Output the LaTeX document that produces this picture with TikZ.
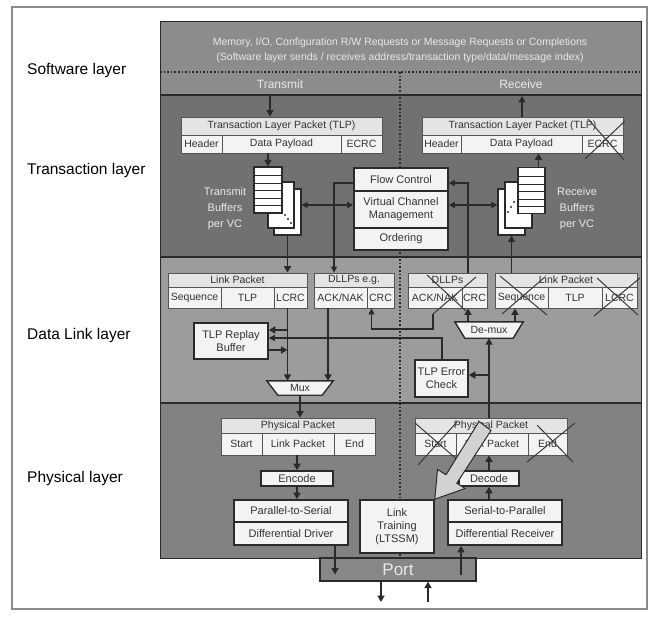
\documentclass[tikz,border=0pt]{standalone}
\usepackage{fontspec}
\setmainfont{Liberation Sans}
\usetikzlibrary{arrows.meta,calc}
\definecolor{swc}{HTML}{8C8C8C}
\definecolor{trc}{HTML}{717171}
\definecolor{dlc}{HTML}{9C9C9C}
\definecolor{phc}{HTML}{828282}
\definecolor{darkc}{HTML}{2A2A2A}
\definecolor{textc}{HTML}{333333}
\definecolor{hdrc}{HTML}{E4E4E4}
\definecolor{cellc}{HTML}{F3F3F3}
\definecolor{pktb}{HTML}{555555}
\definecolor{lightc}{HTML}{E8E8E8}
\definecolor{xc}{HTML}{3A3A3A}
\definecolor{framec}{HTML}{8A8A8A}
\definecolor{portc}{HTML}{878787}
\definecolor{bigc}{HTML}{D2D2D2}
\begin{document}
\begin{tikzpicture}[x=1pt,y=-1pt,
  txt/.style={inner sep=0pt, text=textc, font=\fontsize{10.5}{12}\selectfont, align=center},
  hdr/.style={draw=pktb, line width=0.8pt, fill=hdrc, inner sep=0pt, text=textc, font=\fontsize{10.5}{11.5}\selectfont, minimum height=14pt},
  cell/.style={draw=pktb, line width=0.8pt, fill=cellc, inner sep=0pt, text=textc, font=\fontsize{10.5}{11.5}\selectfont, minimum height=21pt},
  fbox/.style={draw=darkc, line width=1.6pt, fill=cellc, inner sep=0pt, text=textc, font=\fontsize{11}{13}\selectfont, align=center},
  page/.style={draw=darkc, line width=1.2pt, fill=white, inner sep=0pt, minimum width=27pt, minimum height=46pt},
  arr/.style={draw=darkc, line width=1.8pt, -{Triangle[length=6.5pt,width=7pt]}},
  tarr/.style={draw=darkc, line width=1.1pt, -{Triangle[length=6pt,width=6pt]}},
  darr/.style={draw=darkc, line width=1.4pt, {Triangle[length=6pt,width=6pt]}-{Triangle[length=6pt,width=6pt]}},
  xline/.style={draw=xc, line width=1pt},
  lbl/.style={inner sep=0pt, anchor=west, font=\fontsize{15.5}{18}\selectfont, text=black},
  light/.style={inner sep=0pt, text=lightc, align=center}
]
\useasboundingbox (0,0) rectangle (651,618);
\fill[white] (0,0) rectangle (651,618);
\draw[framec, line width=1.2pt] (12,7) rectangle (647,609);

% layer regions
\fill[swc] (160,22) rectangle (641,95);
\fill[trc] (160,95) rectangle (641,257);
\fill[dlc] (160,257) rectangle (641,403);
\fill[phc] (160,403) rectangle (641,558);
\draw[darkc, line width=1pt] (160,22) rectangle (641,558);
\draw[darkc, line width=2pt] (160,95) -- (641,95);
\draw[darkc, line width=2pt] (160,257) -- (641,257);
\draw[darkc, line width=2pt] (160,403) -- (641,403);
\draw[darkc, line width=1.6pt, dash pattern=on 1.6pt off 2pt] (160,72) -- (641,72);
\draw[darkc, line width=1.6pt, dash pattern=on 1.6pt off 2pt] (400,72) -- (400,558);

% left labels
\node[lbl] (lsw) at (27,70) {Software layer};
\node[lbl] (ltr) at (27,170) {Transaction layer};
\node[lbl] (ldl) at (27,335) {Data Link layer};
\node[lbl] (lph) at (27,478) {Physical layer};

% software
\node[light, font=\fontsize{10.5}{15}\selectfont] (swt) at (400,50) {Memory, I/O, Configuration R/W Requests or Message Requests or Completions\\(Software layer sends / receives address/transaction type/data/message index)};
\node[light, font=\fontsize{12}{14}\selectfont] (trans) at (280,84) {Transmit};
\node[light, font=\fontsize{12}{14}\selectfont] (recv) at (521,84) {Receive};

% TLP boxes
\node[hdr, minimum width=201pt, minimum height=18pt] (tlpLh) at (281.5,126) {Transaction Layer Packet (TLP)};
\node[cell, minimum width=41pt, minimum height=18pt] (tlpLa) at (201.5,144) {Header};
\node[cell, minimum width=119pt, minimum height=18pt] (tlpLd) at (281.5,144) {Data Payload};
\node[cell, minimum width=41pt, minimum height=18pt] (tlpLe) at (361.5,144) {ECRC};
\node[hdr, minimum width=201pt, minimum height=18pt] (tlpRh) at (522.5,126) {Transaction Layer Packet (TLP)};
\node[cell, minimum width=39pt, minimum height=18pt] (tlpRa) at (441.5,144) {Header};
\node[cell, minimum width=121pt, minimum height=18pt] (tlpRd) at (521.5,144) {Data Payload};
\node[cell, minimum width=41pt, minimum height=18pt] (tlpRe) at (602.5,144) {ECRC};

% flow control block
\node[fbox, minimum width=94pt, minimum height=23pt] (fc) at (401,179.5) {Flow Control};
\node[fbox, minimum width=94pt, minimum height=37pt] (vcm) at (401,209.5) {Virtual Channel\\Management};
\node[fbox, minimum width=94pt, minimum height=22pt] (ord) at (401,239) {Ordering};

% transmit buffers
\node[page] (bufT3) at (287.5,212) {};
\node[page, minimum width=26pt] (bufT2) at (281,205) {};
\node[page, minimum width=28pt] (bufT1) at (268,190) {};
\foreach \yy in {175,183,190,198,205} \draw[darkc, line width=0.9pt] (254,\yy) -- (282,\yy);
\foreach \p in {(285,215),(288,219),(291,223)} \fill[darkc] \p circle (1.1pt);
\node[light, font=\fontsize{11}{16}\selectfont] (tbl) at (225,209) {Transmit\\Buffers\\per VC};

% receive buffers
\node[page] (bufR3) at (511.5,212) {};
\node[page] (bufR2) at (518.5,205) {};
\node[page] (bufR1) at (531.5,190.5) {};
\foreach \yy in {176,184,191,199,206} \draw[darkc, line width=0.9pt] (518,\yy) -- (545,\yy);
\foreach \p in {(514,202),(511,207),(508,212)} \fill[darkc] \p circle (1.1pt);
\node[light, font=\fontsize{11}{16}\selectfont] (rbl) at (577,209) {Receive\\Buffers\\per VC};

% transaction connectors
\coordinate (txTop) at (270,96);
\draw[arr] (txTop) -- (txTop |- tlpLh.north);
\coordinate (rxTop) at (522,96);
\draw[arr] (rxTop |- tlpRh.north) -- (rxTop);
\draw[arr] (tlpLd.south -| bufT1.north) -- (bufT1.north);
\coordinate (rbo) at ([xshift=7pt]bufR1.north);
\draw[arr] (rbo) -- (rbo |- tlpRd.south);
\coordinate (vcmL) at ([yshift=4.5pt]vcm.west);
\draw[darr] (vcmL -| bufT3.east) -- (vcmL);
\coordinate (vcmR) at ([yshift=4.5pt]vcm.east);
\draw[darr] (vcmR) -- (vcmR -| bufR3.west);

% data link packets
\node[hdr, minimum width=139pt] (lpLh) at (237.5,280) {Link Packet};
\node[cell, minimum width=53pt] (lpLs) at (194.5,297.5) {Sequence};
\node[cell, minimum width=53pt] (lpLt) at (247.5,297.5) {TLP};
\node[cell, minimum width=33pt] (lpLl) at (290.5,297.5) {LCRC};
\node[hdr, minimum width=80pt] (dlTh) at (354,280) {DLLPs e.g.};
\node[cell, minimum width=53pt] (dlTa) at (340.5,297.5) {ACK/NAK};
\node[cell, minimum width=27pt] (dlTc) at (380.5,297.5) {CRC};
\node[hdr, minimum width=79pt] (dlRh) at (447.5,280) {DLLPs};
\node[cell, minimum width=54pt] (dlRa) at (435,297.5) {ACK/NAK};
\node[cell, minimum width=25pt] (dlRc) at (474.5,297.5) {CRC};
\node[hdr, minimum width=142pt] (lpRh) at (566,280) {Link Packet};
\node[cell, minimum width=53pt] (lpRs) at (521.5,297.5) {Sequence};
\node[cell, minimum width=54pt] (lpRt) at (575,297.5) {TLP};
\node[cell, minimum width=35pt] (lpRl) at (619.5,297.5) {LCRC};

\node[fbox, minimum width=74pt, minimum height=36pt] (rb) at (231,341) {TLP Replay\\Buffer};
\node[fbox, minimum width=53pt, minimum height=37pt] (tec) at (441.5,378.5) {TLP Error\\Check};

% flow control lines
\coordinate (fcL) at (334,183);
\draw[tarr] (fc.west |- fcL) -- (fcL) -- (fcL |- dlTh.north);
\coordinate (fcR) at (468,183);
\draw[tarr] (fcR |- dlRh.north) -- (fcR) -- (fc.east |- fcR);
\draw[arr] (bufT3.south) -- (bufT3.south |- lpLh.north);
\draw[arr] (lpRh.north -| bufR3.south) -- (bufR3.south);

% mux
\node[inner sep=0pt, minimum width=66pt, minimum height=14pt] (mux) at (300,388) {};
\filldraw[fill=cellc, draw=darkc, line width=1.4pt] (mux.north west) -- (mux.north east) -- ([xshift=-11pt]mux.south east) -- ([xshift=11pt]mux.south west) -- cycle;
\node[txt] (muxt) at (mux.center) {Mux};
% de-mux
\node[inner sep=0pt, minimum width=68pt, minimum height=16pt] (dm) at (489,330) {};
\filldraw[fill=cellc, draw=darkc, line width=1.4pt] (dm.north west) -- (dm.north east) -- ([xshift=-10pt]dm.south east) -- ([xshift=10pt]dm.south west) -- cycle;
\node[txt] (dmt) at (dm.center) {De-mux};

% data link connectors
\draw[arr] (bufT3.south |- lpLl.south) -- (bufT3.south |- mux.north);
\coordinate (ackT) at ([xshift=-12.5pt]dlTa.south);
\draw[arr] (ackT) -- (ackT |- mux.north);
\coordinate (rbA) at ([yshift=11pt]rb.east);
\draw[arr] (rbA -| bufT3.south) -- (rbA);
\coordinate (rbC) at ([yshift=-9pt]rb.east);
\draw[arr] (rbC) -- (rbC -| bufT3.south);
\coordinate (l2) at (442,338);
\draw[tarr] (l2 |- tec.north) -- (l2) -- (l2 -| rb.east);
\coordinate (l1a) at (433,314);
\coordinate (l1b) at (433,329);
\coordinate (crcT) at ([xshift=-9pt]dlTc.south);
\draw[tarr] (l1a) -- (l1b) -| (crcT);
\coordinate (dmA) at ([xshift=-21pt]dm.north);
\draw[arr] (dmA) -- (dmA |- dlRc.south);
\coordinate (dmB) at ([xshift=26pt]dm.north);
\draw[arr] (dmB) -- (dmB |- lpRs.south);
\coordinate (tecIn) at ([yshift=3.5pt]tec.east);
\draw[arr] (dm.south |- tecIn) -- (tecIn);

% crosses (data link / transaction)
\draw[xline] (427,275) -- (466,311);
\draw[xline] (476,277) -- (433,314);
\draw[xline] (500,276) -- (547,315);
\draw[xline] (545,277) -- (502,314);
\draw[xline] (597,278) -- (638,315);
\draw[xline] (640,278) -- (594,316);
\draw[xline] (588,119) -- (624,160);
\draw[xline] (625,121) -- (585,159);

% physical layer
\node[hdr, minimum width=154pt, minimum height=15pt] (ppLh) at (298,425.5) {Physical Packet};
\node[cell, minimum width=41pt, minimum height=22pt] (ppLs) at (241.5,444) {Start};
\node[cell, minimum width=72pt, minimum height=22pt] (ppLl) at (298,444) {Link Packet};
\node[cell, minimum width=41pt, minimum height=22pt] (ppLe) at (354.5,444) {End};
\node[fbox, minimum width=72pt, minimum height=15pt] (encode) at (297,478.5) {Encode};
\node[fbox, minimum width=114pt, minimum height=22pt] (p2s) at (291,511) {Parallel-to-Serial};
\node[fbox, minimum width=114pt, minimum height=23pt] (dd) at (291,533.5) {Differential Driver};
\node[fbox, minimum width=74pt, minimum height=53pt] (lt) at (397,526.5) {Link\\Training\\(LTSSM)};
\node[hdr, minimum width=152pt, minimum height=15pt] (ppRh) at (491,425.5) {Physical Packet};
\node[cell, minimum width=41pt, minimum height=22pt] (ppRs) at (435.5,444) {Start};
\node[cell, minimum width=72pt, minimum height=22pt] (ppRl) at (492,444) {Link Packet};
\node[cell, minimum width=39pt, minimum height=22pt] (ppRe) at (547.5,444) {End};
\node[fbox, minimum width=60pt, minimum height=15pt] (decode) at (489,478.5) {Decode};
\node[fbox, minimum width=114pt, minimum height=22pt] (s2p) at (505,511) {Serial-to-Parallel};
\node[fbox, minimum width=114pt, minimum height=23pt] (dr) at (505,533.5) {Differential Receiver};
\node[draw=darkc, line width=1.2pt, fill=portc, minimum width=156pt, minimum height=23pt, inner sep=0pt, text=lightc, font=\fontsize{17}{19}\selectfont] (port) at (398,569.5) {Port};

\draw[arr] (dm.south |- ppRh.north) -- (dm.south);
\draw[arr] (mux.south) -- (mux.south |- ppLh.north);
\draw[arr] (encode.north |- ppLl.south) -- (encode.north);
\draw[arr] (encode.south) -- (encode.south |- p2s.north);
\coordinate (ddOut) at ([xshift=44pt]dd.south);
\coordinate (portIn) at ([yshift=-5pt]port.center);
\draw[arr] (ddOut) -- (ddOut |- portIn);
\coordinate (drIn) at ([xshift=-44pt]dr.south);
\draw[arr] (drIn |- portIn) -- (drIn);
\draw[arr] (decode.south |- s2p.north) -- (decode.south);
\draw[arr] (decode.north) -- (decode.north |- ppRl.south);
\coordinate (pOut) at (381,602);
\coordinate (pIn) at (428,602);
\draw[arr] (pOut |- port.south) -- (pOut);
\draw[arr] (pIn) -- (pIn |- port.south);

% crosses (physical)
\draw[xline] (415,423) -- (460,462);
\draw[xline] (457,422) -- (418,465);
\draw[xline] (527,462) -- (575,423);
\draw[xline] (537,425) -- (573,462);

% big hollow arrow to link training
\filldraw[fill=bigc, draw=darkc, line width=1pt, line join=miter] (479,421.5) -- (446,474.8) -- (437.5,469.5) -- (lt.north east) -- (465,488.5) -- (456.8,483.2) -- (491,430.5) -- cycle;
\end{tikzpicture}
\end{document}
